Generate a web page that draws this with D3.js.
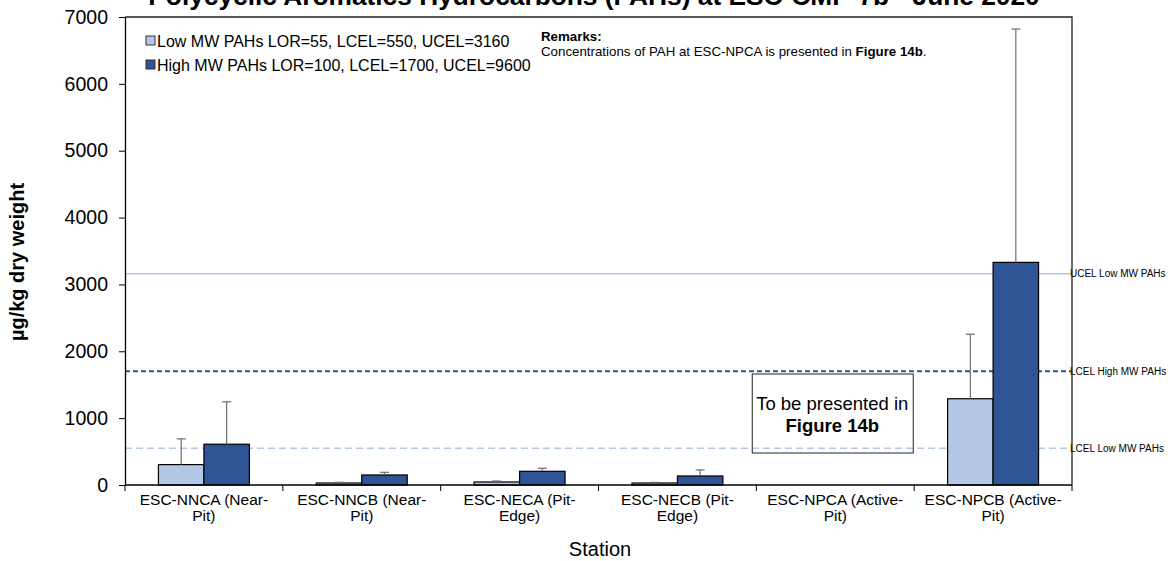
<!DOCTYPE html>
<html>
<head>
<meta charset="utf-8">
<script src="https://cdn.jsdelivr.net/npm/d3@7"></script>
<style>
  body { margin: 0; background: #fff; }
  text { font-family: "Liberation Sans", Arial, sans-serif; }
</style>
</head>
<body>
<svg id="chart" width="1175" height="561"></svg>
<script>
// station labels (two lines each, as in the source chart)
const stations = ["ESC-NNCA", "ESC-NNCB", "ESC-NECA", "ESC-NECB", "ESC-NPCA", "ESC-NPCB"];
const labelTop = ["ESC-NNCA (Near-", "ESC-NNCB (Near-", "ESC-NECA (Pit-", "ESC-NECB (Pit-", "ESC-NPCA (Active-", "ESC-NPCB (Active-"];
const labelBottom = ["Pit)", "Pit)", "Edge)", "Edge)", "Pit)", "Pit)"];

// values in ug/kg dry weight (ESC-NPCA not shown)
const lowMW = [305, 30, 45, 30, null, 1290];
const lowErr = [385, 10, 15, 10, null, 965];
const highMW = [610, 150, 205, 135, null, 3330];
const highErr = [635, 40, 45, 90, null, 3490];

const seriesNames = ["Low MW PAHs LOR=55, LCEL=550, UCEL=3160", "High MW PAHs LOR=100, LCEL=1700, UCEL=9600"];
const yTicks = [0, 1000, 2000, 3000, 4000, 5000, 6000, 7000];

// guideline values
const refValues = [3160, 1700, 550];
const refLabels = ["UCEL Low MW PAHs", "LCEL High MW PAHs", "LCEL Low MW PAHs"];

const lightBlue = "#b4c7e7";
const darkBlue = "#2f5597";

let svg = d3.select("#chart");
let pLeft = 125, pRight = 1072, pTop = 17, pBottom = 485;

let x = d3.scaleBand().domain(stations).range([pLeft, pRight]);
let xs = d3.scaleBand().domain(["low", "high"]).range([0, x.bandwidth()]).paddingOuter(0.735);
let y = d3.scaleLinear().domain([0, 7000]).range([pBottom, pTop]);

// title (clipped at top, as in the original)
svg.append("text")
    .attr("x", 594).attr("y", 5)
    .attr("text-anchor", "middle")
    .attr("font-size", "26.3px").attr("font-weight", "bold")
    .text("Polycyclic Aromatics Hydrocarbons (PAHs) at ESC-CMP-7b - June 2020");

// reference lines
let refStyle = [
    {color: lightBlue, dash: null, w: 1.6},
    {color: darkBlue, dash: "5,3", w: 2},
    {color: lightBlue, dash: "7,4", w: 1.6}
];
refValues.forEach(function(v, i) {
    svg.append("line")
        .attr("x1", pLeft).attr("x2", pRight)
        .attr("y1", y(v)).attr("y2", y(v))
        .attr("stroke", refStyle[i].color)
        .attr("stroke-width", refStyle[i].w)
        .attr("stroke-dasharray", refStyle[i].dash);
    svg.append("text")
        .attr("x", pRight - 2).attr("y", y(v) + 3.5)
        .attr("font-size", "10px")
        .text(refLabels[i]);
});

// bars
let rows = stations.map(function(s, i) {
    return {st: s, low: lowMW[i], lowE: lowErr[i], high: highMW[i], highE: highErr[i]};
});

function drawSeries(key, errKey, color) {
    let d = rows.filter(function(r) { return r[key] != null; });
    svg.selectAll("rect." + key)
        .data(d)
        .enter()
        .append("rect")
        .attr("x", function(r) { return x(r.st) + xs(key); })
        .attr("y", function(r) { return y(r[key]); })
        .attr("width", xs.bandwidth())
        .attr("height", function(r) { return pBottom - y(r[key]); })
        .attr("fill", color)
        .attr("stroke", "#000")
        .attr("stroke-width", 1.2);
    // error bars
    let eb = svg.selectAll("g.err" + key)
        .data(d)
        .enter()
        .append("g");
    eb.append("line")
        .attr("x1", function(r) { return x(r.st) + xs(key) + xs.bandwidth() / 2; })
        .attr("x2", function(r) { return x(r.st) + xs(key) + xs.bandwidth() / 2; })
        .attr("y1", function(r) { return y(r[key]); })
        .attr("y2", function(r) { return y(r[key] + r[errKey]); })
        .attr("stroke", "#6e6e6e").attr("stroke-width", 1.2);
    eb.append("line")
        .attr("x1", function(r) { return x(r.st) + xs(key) + xs.bandwidth() / 2 - 4.5; })
        .attr("x2", function(r) { return x(r.st) + xs(key) + xs.bandwidth() / 2 + 4.5; })
        .attr("y1", function(r) { return y(r[key] + r[errKey]); })
        .attr("y2", function(r) { return y(r[key] + r[errKey]); })
        .attr("stroke", "#6e6e6e").attr("stroke-width", 1.2);
}
drawSeries("low", "lowE", lightBlue);
drawSeries("high", "highE", darkBlue);

// frame top and right
svg.append("path")
    .attr("d", "M" + pLeft + "," + pTop + "H" + pRight + "V" + pBottom)
    .attr("fill", "none").attr("stroke", "#222").attr("stroke-width", 1.3);

// Y axis
let yAxis = svg.append("g")
    .attr("transform", "translate(" + pLeft + ",0)")
    .call(d3.axisLeft(y).tickValues(yTicks).tickSize(6).tickSizeOuter(0).tickFormat(d3.format("d")));
yAxis.selectAll("text").attr("font-size", "19.5px").attr("fill", "#000")
    .attr("font-family", "Liberation Sans, Arial, sans-serif").attr("dx", "-8");
yAxis.selectAll("line").attr("stroke", "#000");
yAxis.select(".domain").attr("stroke", "#000").attr("stroke-width", 1.3);

// X axis
svg.append("line")
    .attr("x1", pLeft).attr("x2", pRight)
    .attr("y1", pBottom).attr("y2", pBottom)
    .attr("stroke", "#000").attr("stroke-width", 1.3);
let edges = stations.map(function(s) { return x(s); }).concat([pRight]);
svg.selectAll("line.xtick")
    .data(edges)
    .enter()
    .append("line")
    .attr("x1", function(d) { return d; }).attr("x2", function(d) { return d; })
    .attr("y1", pBottom).attr("y2", pBottom + 6)
    .attr("stroke", "#000");

let xl = svg.selectAll("text.xlab")
    .data(stations)
    .enter()
    .append("text")
    .attr("text-anchor", "middle")
    .attr("font-size", "15.5px")
    .attr("y", 505);
xl.append("tspan")
    .attr("x", function(d) { return x(d) + x.bandwidth() / 2; })
    .text(function(d, i) { return labelTop[i]; });
xl.append("tspan")
    .attr("x", function(d) { return x(d) + x.bandwidth() / 2; })
    .attr("dy", "16")
    .text(function(d, i) { return labelBottom[i]; });

// axis titles
svg.append("text")
    .attr("x", 600).attr("y", 556)
    .attr("text-anchor", "middle").attr("font-size", "20px")
    .text("Station");
svg.append("text")
    .attr("transform", "translate(24,262) rotate(-90)")
    .attr("text-anchor", "middle").attr("font-size", "20px").attr("font-weight", "bold")
    .text("µg/kg dry weight");

// legend
let legend = svg.append("g");
[lightBlue, darkBlue].forEach(function(c, i) {
    legend.append("rect")
        .attr("x", 146).attr("y", 36 + i * 24)
        .attr("width", 9).attr("height", 9)
        .attr("fill", c).attr("stroke", "#333").attr("stroke-width", 1);
    legend.append("text")
        .attr("x", 157).attr("y", 46.5 + i * 24)
        .attr("font-size", "16px")
        .text(seriesNames[i]);
});

// remarks
svg.append("text")
    .attr("x", 541).attr("y", 41)
    .attr("font-size", "13.3px").attr("font-weight", "bold")
    .text("Remarks:");
let rm = svg.append("text")
    .attr("x", 541).attr("y", 56)
    .attr("font-size", "13.3px");
rm.append("tspan").text("Concentrations of PAH at ESC-NPCA is presented in ");
rm.append("tspan").attr("font-weight", "bold").text("Figure 14b");
rm.append("tspan").text(".");

// placeholder box for ESC-NPCA
let bx = x("ESC-NPCA") + x.bandwidth() / 2 - 3;
svg.append("rect")
    .attr("x", bx - 80).attr("y", 374)
    .attr("width", 161).attr("height", 79)
    .attr("fill", "#fff").attr("fill-opacity", 0)
    .attr("stroke", "#222").attr("stroke-width", 1);
svg.append("text")
    .attr("x", bx).attr("y", 409.5)
    .attr("text-anchor", "middle").attr("font-size", "18.5px")
    .text("To be presented in");
svg.append("text")
    .attr("x", bx).attr("y", 431.5)
    .attr("text-anchor", "middle").attr("font-size", "18.5px").attr("font-weight", "bold")
    .text("Figure 14b");
</script>
</body>
</html>
